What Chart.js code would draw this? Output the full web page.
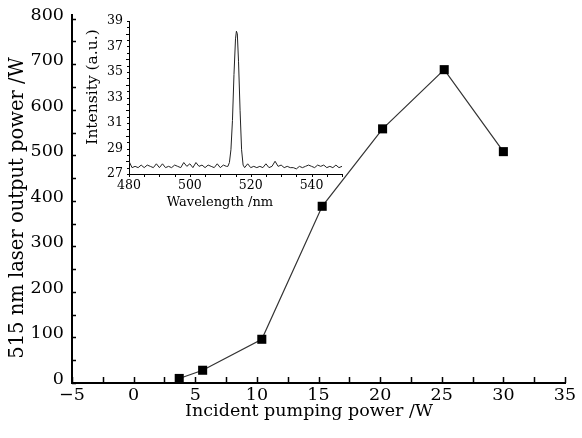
<!DOCTYPE html>
<html>
<head>
<meta charset="utf-8">
<script src="https://cdn.jsdelivr.net/npm/chart.js@4.4.1/dist/chart.umd.min.js"></script>
<style>
  body { margin: 0; background: #fff; }
  #wrap { position: relative; width: 582px; height: 438px; }
  #main { position: absolute; left: 0; top: 0; }
  #inset { position: absolute; left: 80px; top: 4px; }
</style>
</head>
<body>
<div id="wrap">
  <canvas id="main" width="582" height="438"></canvas>
  <canvas id="inset" width="275" height="215"></canvas>
</div>
<script>
// main plot: output power vs pump power
const pumpPower = [3.7, 5.6, 10.4, 15.3, 20.2, 25.2, 30.0]
const outputPower = [2, 20, 88, 380, 550, 680, 500]
const mainXTicks = [-5, 0, 5, 10, 15, 20, 25, 30, 35]
const mainYTicks = [0, 100, 200, 300, 400, 500, 600, 700, 800]

// inset: emission spectrum
const wavelength = [480, 481, 482, 483, 484, 485, 486, 487, 488, 489, 490, 491, 492, 493, 494, 495, 496, 497, 498, 499,
  500, 501, 502, 503, 504, 505, 506, 507, 508, 509, 510, 511, 512, 512.5, 513, 513.5, 514, 514.5, 515, 515.3, 515.6,
  516, 516.5, 517, 517.5, 518, 519, 520, 521, 522, 523, 524, 525, 526, 527, 528, 529, 530, 531, 532, 533, 534, 535,
  536, 537, 538, 539, 540, 541, 542, 543, 544, 545, 546, 547, 548, 549, 550]
const intensity = [28.0, 27.5, 27.6, 27.5, 27.7, 27.5, 27.7, 27.6, 27.5, 27.8, 27.5, 27.8, 27.5, 27.6, 27.5, 27.7, 27.6, 27.5, 27.9, 27.6,
  27.8, 27.5, 27.9, 27.6, 27.7, 27.5, 27.7, 27.6, 27.5, 27.8, 27.5, 27.7, 27.6, 27.6, 27.9, 28.9, 31.2, 34.8, 37.6, 38.2, 38.0,
  35.8, 32.0, 28.9, 27.7, 27.5, 27.8, 27.5, 27.6, 27.5, 27.6, 27.5, 27.8, 27.5, 27.6, 28.0, 27.6, 27.7, 27.5, 27.6, 27.5, 27.5, 27.4,
  27.6, 27.5, 27.6, 27.7, 27.6, 27.5, 27.7, 27.6, 27.7, 27.5, 27.6, 27.5, 27.7, 27.5, 27.6]
const insetXTicks = [480, 500, 520, 540]
const insetYTicks = [27, 29, 31, 33, 35, 37, 39]

Chart.defaults.font.family = "'DejaVu Serif', serif"
Chart.defaults.color = '#000'

// tick marks drawn by hand so they can point inward / have minor ticks
const tickMarks = {
  id: 'tickMarks',
  afterDraw(chart, args, opts) {
    const ctx = chart.ctx
    const area = chart.chartArea
    ctx.save()
    ctx.strokeStyle = '#000'
    ctx.lineWidth = opts.width || 1
    opts.marks.forEach(function(m) {
      const sc = chart.scales[m.axis]
      const n = Math.round((sc.max - sc.min) / m.step)
      ctx.beginPath()
      for (let i = 0; i <= n; i++) {
        const v = sc.min + i * m.step
        const major = Math.abs(v / m.majorStep - Math.round(v / m.majorStep)) < 1e-6
        const len = major ? m.len : m.minorLen
        const p = Math.round(sc.getPixelForValue(v)) + 0.5
        if (m.axis.startsWith('x')) {
          ctx.moveTo(p, area.bottom)
          ctx.lineTo(p, area.bottom + m.dir * len)
        } else {
          ctx.moveTo(area.left, p)
          ctx.lineTo(area.left + m.dir * len, p)
        }
      }
      ctx.stroke()
    })
    ctx.restore()
  }
}

const axisTitles = {
  id: 'axisTitles',
  afterDraw(chart, args, opts) {
    const ctx = chart.ctx
    ctx.save()
    ctx.fillStyle = '#000'
    ctx.textAlign = 'center'
    ctx.textBaseline = 'middle'
    opts.titles.forEach(function(t) {
      ctx.font = t.size + "px 'DejaVu Serif', serif"
      ctx.save()
      ctx.translate(t.x, t.y)
      if (t.rotate) ctx.rotate(-Math.PI / 2)
      ctx.fillText(t.text, 0, 0)
      ctx.restore()
    })
    ctx.restore()
  }
}

new Chart(document.getElementById('main').getContext('2d'), {
  type: 'line',
  data: {
    datasets: [{
      data: pumpPower.map((x, i) => ({ x: x, y: outputPower[i] })),
      borderColor: '#333',
      borderWidth: 1.2,
      backgroundColor: '#000',
      pointStyle: 'rect',
      pointRadius: 6.4,
      pointBorderWidth: 0,
      pointBackgroundColor: '#000',
      tension: 0
    }]
  },
  options: {
    responsive: false,
    animation: false,
    devicePixelRatio: 1,
    layout: { padding: { top: 15, right: 17, left: 0, bottom: 0 } },
    scales: {
      x: {
        type: 'linear',
        min: -5,
        max: 35,
        afterBuildTicks: (scale) => { scale.ticks = mainXTicks.map(v => ({ value: v })) },
        afterFit: (scale) => { scale.height = 55 },
        ticks: { font: { size: 17.5 }, padding: 2, maxRotation: 0, callback: (v) => v < 0 ? '\u2212' + Math.abs(v) : v },
        grid: { display: false, drawTicks: false },
        border: { display: true, color: '#000', width: 2 }
      },
      y: {
        min: -8,
        max: 800,
        afterBuildTicks: (scale) => { scale.ticks = mainYTicks.map(v => ({ value: v })) },
        afterFit: (scale) => { scale.width = 72 },
        ticks: { font: { size: 17.5, lineHeight: 0.8 }, padding: 8 },
        grid: { display: false, drawTicks: false },
        border: { display: true, color: '#000', width: 2 }
      }
    },
    plugins: {
      legend: { display: false },
      tooltip: { enabled: false },
      tickMarks: {
        width: 1.5,
        marks: [
          { axis: 'x', step: 2.5, majorStep: 5, len: 6, minorLen: 6, dir: -1 },
          { axis: 'y', step: 50, majorStep: 100, len: 7, minorLen: 4, dir: 1 }
        ]
      },
      axisTitles: {
        titles: [
          { text: 'Incident pumping power /W', x: 309, y: 411, size: 17.5 },
          { text: '515 nm laser output power /W', x: 18, y: 208, size: 19.5, rotate: true }
        ]
      }
    }
  },
  plugins: [tickMarks, axisTitles]
})

new Chart(document.getElementById('inset').getContext('2d'), {
  type: 'line',
  data: {
    datasets: [{
      data: wavelength.map((x, i) => ({ x: x, y: intensity[i] })),
      borderColor: '#222',
      borderWidth: 1,
      pointRadius: 0,
      tension: 0
    }]
  },
  options: {
    responsive: false,
    animation: false,
    devicePixelRatio: 1,
    layout: { padding: { top: 17, right: 13, left: 0, bottom: 0 } },
    scales: {
      x: {
        type: 'linear',
        min: 480,
        max: 550,
        afterBuildTicks: (scale) => { scale.ticks = insetXTicks.map(v => ({ value: v })) },
        afterFit: (scale) => { scale.height = 45 },
        ticks: { font: { size: 12.5 }, padding: 4, maxRotation: 0 },
        grid: { display: false, drawTicks: false },
        border: { display: true, color: '#000', width: 1 }
      },
      y: {
        min: 27,
        max: 39,
        afterBuildTicks: (scale) => { scale.ticks = insetYTicks.map(v => ({ value: v })) },
        afterFit: (scale) => { scale.width = 49 },
        ticks: { font: { size: 12.5 }, padding: 6 },
        grid: { display: false, drawTicks: false },
        border: { display: true, color: '#000', width: 1 }
      }
    },
    plugins: {
      legend: { display: false },
      tooltip: { enabled: false },
      tickMarks: {
        width: 1,
        marks: [
          { axis: 'x', step: 5, majorStep: 10, len: 3, minorLen: 3, dir: 1 },
          { axis: 'y', step: 0.5, majorStep: 2, len: 3, minorLen: 2, dir: -1 }
        ]
      },
      axisTitles: {
        titles: [
          { text: 'Wavelength /nm', x: 140, y: 199, size: 13 },
          { text: 'Intensity (a.u.)', x: 13, y: 83, size: 15.5, rotate: true }
        ]
      }
    }
  },
  plugins: [tickMarks, axisTitles]
})
</script>
</body>
</html>
